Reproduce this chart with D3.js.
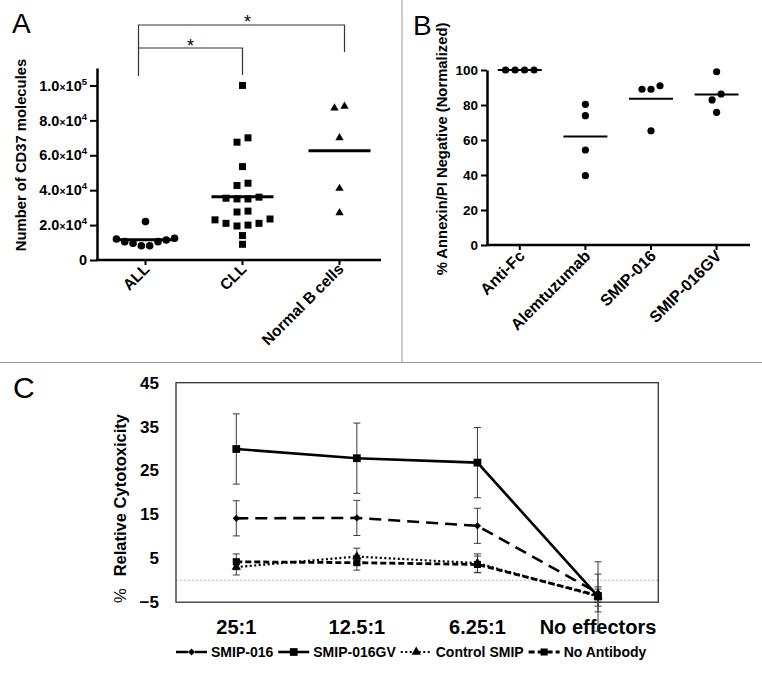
<!DOCTYPE html>
<html><head><meta charset="utf-8">
<script src="https://cdn.jsdelivr.net/npm/d3@7"></script>
<style>
body{margin:0;background:#fff;}
svg{display:block;font-family:"Liberation Sans",Arial,Helvetica,sans-serif;}
</style></head><body>
<svg id="chart" width="762" height="675"></svg>
<script>
// ---------- Panel A data ----------
const groupsA = ["ALL", "CLL", "Normal B cells"];
const allValues = [22000, 12000, 10500, 9600, 8200, 8200, 10500, 11500, 12500];
const cllValues = [100000, 70000, 67500, 53500, 44000, 42700, 36000, 35000, 35000, 35400,
                   27500, 28000, 23500, 21000, 20000, 19500, 21000, 23000, 14000, 9000];
const normalBValues = [88000, 87000, 70000, 41000, 27000];
const tickValuesA = [0, 20000, 40000, 60000, 80000, 100000];
const tickMantissaA = ["0", "2.0", "4.0", "6.0", "8.0", "1.0"];
const tickExponentA = ["", "4", "4", "4", "4", "5"];
const yLabelA = "Number of CD37 molecules";

// ---------- Panel B data ----------
const groupsB = ["Anti-Fc", "Alemtuzumab", "SMIP-016", "SMIP-016GV"];
const antiFcValues = [100, 100, 100, 100];
const alemtuzumabValues = [80.4, 73.9, 54.3, 39.6];
const smip016Values = [89, 89, 91, 65.3];
const smip016gvValues = [99, 86.3, 82.9, 75.8];
const tickValuesB = [0, 20, 40, 60, 80, 100];
const yLabelB = "% Annexin/PI Negative (Normalized)";

// ---------- Panel C data ----------
const ratiosC = ["25:1", "12.5:1", "6.25:1", "No effectors"];
const seriesNamesC = ["SMIP-016", "SMIP-016GV", "Control SMIP", "No Antibody"];
const smip016Mean = [14.1, 14.2, 12.4, -2.9];
const smip016Err = [4.0, 4.0, 4.0, 4.3];
const smip016gvMean = [29.9, 27.8, 26.8, -3.7];
const smip016gvErr = [8.0, 8.0, 8.0, 7.9];
const controlMean = [3.0, 5.4, 3.9, -3.7];
const controlErr = [1.8, 1.9, 2.1, 2.2];
const noAbMean = [4.2, 4.0, 3.6, -3.5];
const noAbErr = [1.8, 1.7, 1.9, 1.5];
const tickValuesC = [-5, 5, 15, 25, 35, 45];

const FONT = "'Liberation Sans', Arial, Helvetica, sans-serif";
const svg = d3.select("#chart");

// swarm layout: values that would overlap vertically are placed side by side in a row
function swarm(values, y, thresholdPx, spacing) {
  const sorted = values.slice().sort((a, b) => a - b);
  const clusters = [];
  let cur = [sorted[0]];
  for (let i = 1; i < sorted.length; i++) {
    if (Math.abs(y(sorted[i]) - y(sorted[i - 1])) < thresholdPx) cur.push(sorted[i]);
    else { clusters.push(cur); cur = [sorted[i]]; }
  }
  clusters.push(cur);
  const out = [];
  clusters.forEach(c => {
    const n = c.length;
    const offs = d3.range(n).map(i => (i - (n - 1) / 2) * spacing)
      .sort((a, b) => (Math.abs(a) - Math.abs(b)) || (a - b));
    c.forEach((v, i) => out.push({ v, dx: offs[i] }));
  });
  return out;
}

// ---------- dividers ----------
svg.append("line").attr("x1", 402).attr("x2", 402).attr("y1", 0).attr("y2", 362)
  .attr("stroke", "#9a9a9a").attr("stroke-width", 1);
svg.append("line").attr("x1", 0).attr("x2", 762).attr("y1", 362.5).attr("y2", 362.5)
  .attr("stroke", "#9a9a9a").attr("stroke-width", 1);

// ================= PANEL A =================
(function () {
  const g = svg.append("g");
  const xA = d3.scalePoint().domain(groupsA).range([97, 388]).padding(0.5);
  const yA = d3.scaleLinear().domain([0, 110000]).range([260, 68]);

  g.append("text").attr("x", 12).attr("y", 33).attr("font-size", 28).text("A");

  // y axis
  const ax = g.append("g").attr("transform", "translate(97,0)")
    .call(d3.axisLeft(yA).tickValues(tickValuesA).tickSize(7).tickSizeOuter(0).tickPadding(3));
  ax.attr("font-family", FONT).attr("font-size", 14.5).attr("font-weight", "bold");
  ax.select(".domain").attr("stroke", "#000").attr("stroke-width", 2.5);
  ax.selectAll(".tick line").attr("stroke-width", 2);
  ax.selectAll(".tick text").each(function (d, i) {
    const t = d3.select(this).text(null).attr("fill", "#000");
    t.append("tspan").text(tickMantissaA[i]);
    if (tickExponentA[i]) {
      t.append("tspan").attr("font-size", 10.5).text("×");
      t.append("tspan").text("10");
      t.append("tspan").attr("font-size", 9.5).attr("dy", -6).text(tickExponentA[i]);
    }
  });

  // x axis
  g.append("line").attr("x1", 96).attr("x2", 381).attr("y1", yA(0)).attr("y2", yA(0))
    .attr("stroke", "#000").attr("stroke-width", 2.5);
  g.selectAll(".xtA").data(groupsA).join("line")
    .attr("x1", d => xA(d)).attr("x2", d => xA(d)).attr("y1", yA(0)).attr("y2", yA(0) + 5)
    .attr("stroke", "#000").attr("stroke-width", 2);
  g.selectAll(".xlA").data(groupsA).join("text")
    .attr("transform", d => `translate(${xA(d) + 5},${yA(0) + 10}) rotate(-45)`)
    .attr("text-anchor", "end").attr("font-size", 15.5).attr("font-weight", "bold").text(d => d);

  // y label
  g.append("text").attr("transform", "translate(26,155) rotate(-90)")
    .attr("text-anchor", "middle").attr("font-size", 14.8).attr("font-weight", "bold").text(yLabelA);

  // points
  const sets = [
    { name: "ALL", values: allValues, spacing: 8.3, sym: "circle" },
    { name: "CLL", values: cllValues, spacing: 11, sym: "square" },
    { name: "Normal B cells", values: normalBValues, spacing: 10, sym: "triangle" }
  ];
  sets.forEach(s => {
    const pts = swarm(s.values, yA, 5.5, s.spacing);
    const cx = xA(s.name);
    if (s.sym === "circle") {
      g.selectAll(null).data(pts).join("circle")
        .attr("cx", d => cx + d.dx).attr("cy", d => yA(d.v)).attr("r", 3.8).attr("fill", "#000");
    } else {
      const type = s.sym === "square" ? d3.symbolSquare : d3.symbolTriangle;
      const size = s.sym === "square" ? 49 : 30;
      g.selectAll(null).data(pts).join("path")
        .attr("d", d3.symbol().type(type).size(size))
        .attr("transform", d => `translate(${cx + d.dx},${yA(d.v)})`).attr("fill", "#000");
    }
    const m = d3.mean(s.values);
    g.append("line").attr("x1", cx - 31).attr("x2", cx + 31).attr("y1", yA(m)).attr("y2", yA(m))
      .attr("stroke", "#000").attr("stroke-width", 3);
  });

  // significance brackets
  const bl = xA("ALL") - 7;
  const br1 = xA("Normal B cells") + 5;
  const br2 = xA("CLL");
  g.append("path").attr("d", `M${bl},76V25H${br1}V52`).attr("fill", "none")
    .attr("stroke", "#333").attr("stroke-width", 1.2);
  g.append("path").attr("d", `M${bl},48H${br2}V75`).attr("fill", "none")
    .attr("stroke", "#333").attr("stroke-width", 1.2);
  g.append("text").attr("x", (bl + br1) / 2 + 6).attr("y", 28).attr("text-anchor", "middle")
    .attr("font-size", 18).text("*");
  g.append("text").attr("x", (bl + br2) / 2).attr("y", 52).attr("text-anchor", "middle")
    .attr("font-size", 18).text("*");
})();

// ================= PANEL B =================
(function () {
  const g = svg.append("g");
  const xB = d3.scalePoint().domain(groupsB).range([487, 749.4]).padding(0.5);
  const yB = d3.scaleLinear().domain([0, 100]).range([245, 70]);

  g.append("text").attr("x", 413).attr("y", 35).attr("font-size", 28).text("B");

  const ax = g.append("g").attr("transform", "translate(487,0)")
    .call(d3.axisLeft(yB).tickValues(tickValuesB).tickSize(6).tickSizeOuter(0).tickPadding(3));
  ax.attr("font-family", FONT).attr("font-size", 13.5).attr("font-weight", "bold");
  ax.select(".domain").attr("stroke", "#000").attr("stroke-width", 2.5);
  ax.selectAll(".tick line").attr("stroke-width", 2);

  g.append("line").attr("x1", 486).attr("x2", 750).attr("y1", yB(0)).attr("y2", yB(0))
    .attr("stroke", "#000").attr("stroke-width", 2.5);
  g.selectAll(".xtB").data(groupsB).join("line")
    .attr("x1", d => xB(d)).attr("x2", d => xB(d)).attr("y1", yB(0)).attr("y2", yB(0) + 5)
    .attr("stroke", "#000").attr("stroke-width", 2);
  g.selectAll(".xlB").data(groupsB).join("text")
    .attr("transform", d => `translate(${xB(d) + 6},${yB(0) + 12}) rotate(-45)`)
    .attr("text-anchor", "end").attr("font-size", 16).attr("font-weight", "bold").text(d => d);

  g.append("text").attr("transform", "translate(447,149) rotate(-90)")
    .attr("text-anchor", "middle").attr("font-size", 14.8).attr("font-weight", "bold").text(yLabelB);

  const sets = [antiFcValues, alemtuzumabValues, smip016Values, smip016gvValues];
  sets.forEach((vals, i) => {
    const cx = xB(groupsB[i]);
    const pts = swarm(vals, yB, 7, i === 0 ? 9.5 : 9);
    g.selectAll(null).data(pts).join("circle")
      .attr("cx", d => cx + d.dx).attr("cy", d => yB(d.v)).attr("r", 3.6).attr("fill", "#000");
    const m = d3.mean(vals);
    g.append("line").attr("x1", cx - 22).attr("x2", cx + 22).attr("y1", yB(m)).attr("y2", yB(m))
      .attr("stroke", "#000").attr("stroke-width", 2);
  });
})();

// ================= PANEL C =================
(function () {
  const g = svg.append("g");
  const xC = d3.scaleBand().domain(ratiosC).range([176, 658.3]);
  const yC = d3.scaleLinear().domain([-5, 45]).range([602.2, 382.7]);
  const cx = d => xC(d) + xC.bandwidth() / 2;

  g.append("text").attr("x", 13).attr("y", 398).attr("font-size", 30).text("C");

  // zero reference line
  g.append("line").attr("x1", 176).attr("x2", 658.3).attr("y1", yC(0)).attr("y2", yC(0))
    .attr("stroke", "#b8b8b8").attr("stroke-width", 1).attr("stroke-dasharray", "2,2");

  // axes
  const ay = g.append("g").attr("transform", "translate(176,0)")
    .call(d3.axisLeft(yC).tickValues(tickValuesC).tickSize(0).tickPadding(17));
  ay.attr("font-family", FONT).attr("font-size", 17).attr("font-weight", "bold");
  ay.select(".domain").remove();

  const axx = g.append("g").attr("transform", `translate(0,${yC(-5)})`)
    .call(d3.axisBottom(xC).tickSize(0).tickPadding(18));
  axx.attr("font-family", FONT).attr("font-size", 20).attr("font-weight", "bold");
  axx.select(".domain").remove();

  // box
  g.append("rect").attr("x", 176).attr("y", yC(45)).attr("width", 658.3 - 176)
    .attr("height", yC(-5) - yC(45)).attr("fill", "none").attr("stroke", "#333").attr("stroke-width", 1.3);

  // y label
  const yl = g.append("text").attr("transform", `translate(126,603) rotate(-90)`)
    .attr("font-size", 16.5);
  yl.append("tspan").text("%");
  yl.append("tspan").attr("dx", 12).attr("font-weight", "bold").text("Relative Cytotoxicity");

  const series = [
    { name: seriesNamesC[0], mean: smip016Mean, err: smip016Err, dash: "12,7", w: 2.6, sym: "diamond" },
    { name: seriesNamesC[1], mean: smip016gvMean, err: smip016gvErr, dash: null, w: 2.6, sym: "square" },
    { name: seriesNamesC[2], mean: controlMean, err: controlErr, dash: "2,2.5", w: 2.2, sym: "triangle" },
    { name: seriesNamesC[3], mean: noAbMean, err: noAbErr, dash: "6,3", w: 2.8, sym: "squareSmall" }
  ];
  const symPath = s => {
    if (s === "diamond") return d3.symbol().type(d3.symbolSquare).size(26)();
    if (s === "square") return d3.symbol().type(d3.symbolSquare).size(60)();
    if (s === "triangle") return d3.symbol().type(d3.symbolTriangle).size(38)();
    return d3.symbol().type(d3.symbolSquare).size(50)();
  };
  const symRot = s => s === "diamond" ? " rotate(45)" : "";

  // error bars
  series.forEach(s => {
    s.mean.forEach((m, i) => {
      const x = cx(ratiosC[i]);
      const top = yC(m + s.err[i]), bot = yC(m - s.err[i]);
      g.append("path").attr("d", `M${x},${top}V${bot}M${x - 3.5},${top}H${x + 3.5}M${x - 3.5},${bot}H${x + 3.5}`)
        .attr("stroke", "#3a3a3a").attr("stroke-width", 1).attr("fill", "none");
    });
  });

  // lines
  const line = d3.line().x((d, i) => cx(ratiosC[i])).y(d => yC(d));
  series.forEach(s => {
    g.append("path").attr("d", line(s.mean)).attr("fill", "none").attr("stroke", "#000")
      .attr("stroke-width", s.w).attr("stroke-dasharray", s.dash);
  });
  // markers
  series.forEach(s => {
    g.selectAll(null).data(s.mean).join("path")
      .attr("d", symPath(s.sym))
      .attr("transform", (d, i) => `translate(${cx(ratiosC[i])},${yC(d)})${symRot(s.sym)}`)
      .attr("fill", "#000");
  });

  // legend
  let lx = 176;
  const ly = 652;
  series.forEach(s => {
    g.append("line").attr("x1", lx).attr("x2", lx + 31).attr("y1", ly).attr("y2", ly)
      .attr("stroke", "#000").attr("stroke-width", s.w).attr("stroke-dasharray", s.dash);
    g.append("path").attr("d", symPath(s.sym))
      .attr("transform", `translate(${lx + 15.5},${ly})${symRot(s.sym)}`).attr("fill", "#000");
    const t = g.append("text").attr("x", lx + 35).attr("y", ly + 5).attr("font-size", 14)
      .attr("font-weight", "bold").text(s.name);
    lx += 35 + t.node().getComputedTextLength() + 5;
  });
})();
</script>
</body></html>
